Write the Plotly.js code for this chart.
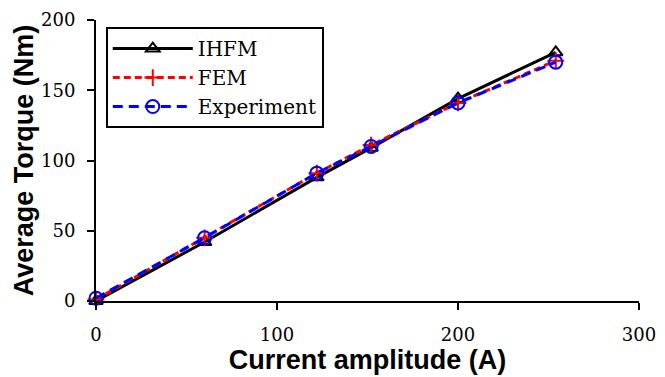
<!DOCTYPE html>
<html>
<head>
<meta charset="utf-8">
<script src="https://cdn.plot.ly/plotly-3.0.1.min.js"></script>
<style>html,body{margin:0;padding:0;background:#fff;}#chart{width:665px;height:377px;}</style>
</head>
<body>
<div id="chart"></div>
<script>
const current = [0, 60, 122, 152, 200, 254];
const ihfm = [0, 42, 88, 109, 144, 177];
const fem = [1, 45, 91, 111, 141, 171];
const experiment = [2, 45, 91, 110, 141, 170];
const seriesNames = ["IHFM", "FEM", "Experiment"];
const xTicks = [0, 100, 200, 300];
const yTicks = [0, 50, 100, 150, 200];

const traces = [
  {x: current, y: ihfm, name: seriesNames[0], type: "scatter", mode: "lines+markers", cliponaxis: false,
   line: {color: "#000000", width: 3},
   marker: {symbol: "triangle-up-open", size: 12, color: "#000000", line: {width: 2, color: "#000000"}}},
  {x: current, y: fem, name: seriesNames[1], type: "scatter", mode: "lines+markers", cliponaxis: false,
   line: {color: "#ff0000", width: 3, dash: "7px,4px"},
   marker: {symbol: "cross-thin-open", size: 12, color: "#ff0000", line: {width: 2, color: "#ff0000"}}},
  {x: current, y: experiment, name: seriesNames[2], type: "scatter", mode: "lines+markers", cliponaxis: false,
   line: {color: "#0000ff", width: 3, dash: "10px,6px"},
   marker: {symbol: "circle-open", size: 13, color: "#0000ff", line: {width: 2, color: "#0000ff"}}}
];

const tickFont = {family: "DejaVu Serif, serif", size: 18, color: "#000"};
const titleFont = {family: "Liberation Sans, Arial, sans-serif", size: 27, color: "#000", weight: "bold"};

const layout = {
  width: 665, height: 377,
  margin: {l: 96, r: 26, t: 20, b: 76},
  paper_bgcolor: "#fff", plot_bgcolor: "#fff",
  showlegend: true,
  legend: {x: 0.018, y: 0.975, xanchor: "left", yanchor: "top",
    bordercolor: "#000", borderwidth: 2, bgcolor: "#fff",
    font: {family: "DejaVu Serif, serif", size: 20, color: "#000"},
    itemwidth: 80, tracegroupgap: 0},
  xaxis: {range: [0, 300], tickvals: xTicks, ticktext: xTicks.map(String),
    showline: true, linecolor: "#000", linewidth: 2, mirror: false,
    ticks: "outside", ticklen: 7, tickwidth: 2, tickcolor: "#000",
    showgrid: false, zeroline: false, tickfont: tickFont, ticklabelstandoff: 9,
    title: {text: "Current amplitude (A)", font: titleFont, standoff: 1}},
  yaxis: {range: [0, 200], tickvals: yTicks, ticktext: yTicks.map(String),
    showline: true, linecolor: "#000", linewidth: 2,
    ticks: "outside", ticklen: 7, tickwidth: 2, tickcolor: "#000",
    showgrid: false, zeroline: false, tickfont: tickFont, ticklabelstandoff: 8,
    title: {text: "Average Torque (Nm)", font: titleFont, standoff: 0}}
};

Plotly.newPlot("chart", traces, layout, {displayModeBar: false, staticPlot: true});
</script>
</body>
</html>
